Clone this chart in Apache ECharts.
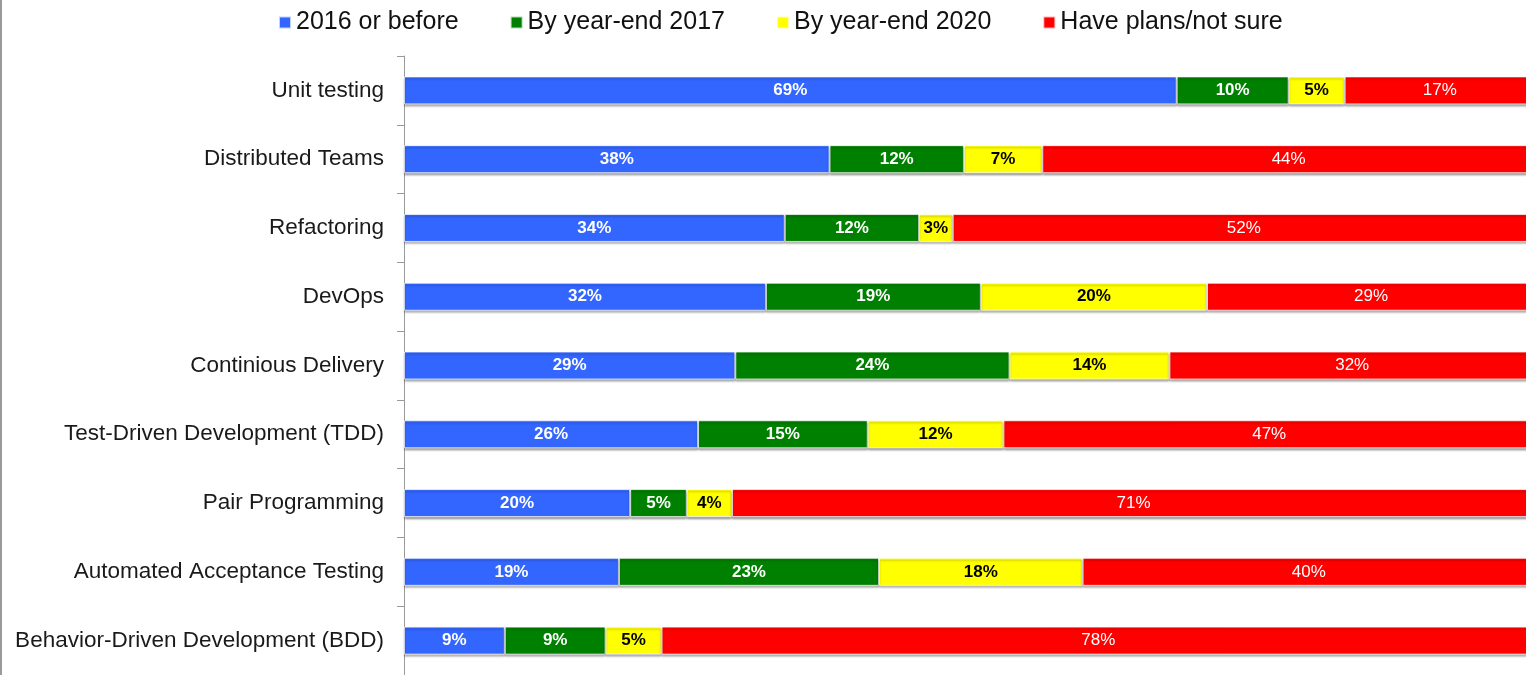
<!DOCTYPE html>
<html>
<head>
<meta charset="utf-8">
<script src="https://cdn.jsdelivr.net/npm/echarts@6/dist/echarts.min.js"></script>
<style>
html,body{margin:0;padding:0;background:#fff;overflow:hidden;}
#chart{width:1545px;height:675px;}
</style>
</head>
<body>
<div id="chart"></div>
<script>
const categories = [
  "Unit testing",
  "Distributed Teams",
  "Refactoring",
  "DevOps",
  "Continious Delivery",
  "Test-Driven Development (TDD)",
  "Pair Programming",
  "Automated Acceptance Testing",
  "Behavior-Driven Development (BDD)"
];
const seriesNames = ["2016 or before", "By year-end 2017", "By year-end 2020", "Have plans/not sure"];
const before2016 = [69, 38, 34, 32, 29, 26, 20, 19, 9];
const by2017     = [10, 12, 12, 19, 24, 15, 5, 23, 9];
const by2020     = [5, 7, 3, 20, 14, 12, 4, 18, 5];
const plansNotSure = [17, 44, 52, 29, 32, 47, 71, 40, 78];
const colors = ["#3366ff", "#008000", "#ffff00", "#ff0000"];

const allSeries = [before2016, by2017, by2020, plansNotSure];
const rowTotals = categories.map((_, i) => allSeries.reduce((s, arr) => s + arr[i], 0));

const labelStyles = [
  {color: "#fff", fontWeight: "bold"},
  {color: "#fff", fontWeight: "bold"},
  {color: "#000", fontWeight: "bold"},
  {color: "#fff", fontWeight: "normal"}
];

const series = allSeries.map((arr, k) => ({
  name: seriesNames[k],
  type: "bar",
  stack: "total",
  barWidth: 28,
  itemStyle: {
    color: colors[k],
    borderColor: "rgba(255,255,255,0.7)",
    borderWidth: 1,
    shadowColor: "rgba(0,0,0,0.35)",
    shadowOffsetY: 2,
    shadowBlur: 2
  },
  label: {
    show: true,
    position: "inside",
    fontFamily: "Liberation Sans, Arial, sans-serif",
    fontSize: 17,
    color: labelStyles[k].color,
    fontWeight: labelStyles[k].fontWeight,
    formatter: p => p.data.raw + "%"
  },
  data: arr.map((v, i) => ({value: v / rowTotals[i] * 100, raw: v}))
}));

const chart = echarts.init(document.getElementById("chart"));
chart.setOption({
  animation: false,
  color: colors,
  textStyle: {fontFamily: "Liberation Sans, Arial, sans-serif"},
  legend: {
    left: 273,
    top: 5,
    icon: "rect",
    itemWidth: 12,
    itemHeight: 12,
    itemGap: 51,
    textStyle: {fontSize: 25, color: "#111", fontFamily: "Liberation Sans, Arial, sans-serif"},
    data: seriesNames
  },
  grid: {left: 404, top: 56, right: 10, height: 621, containLabel: false},
  xAxis: {
    type: "value",
    min: 0,
    max: 100,
    show: false
  },
  yAxis: {
    type: "category",
    inverse: true,
    data: categories,
    axisLine: {show: true, lineStyle: {color: "#9a9a9a", width: 1}},
    axisTick: {show: true, length: 7, lineStyle: {color: "#9a9a9a"}},
    axisLabel: {
      margin: 20,
      fontSize: 22.5,
      color: "#1a1a1a",
      padding: [5, 0, 0, 0],
      fontFamily: "Liberation Sans, Arial, sans-serif"
    },
    splitLine: {show: false}
  },
  graphic: [{
    type: "line",
    shape: {x1: 1, y1: 0, x2: 1, y2: 675},
    style: {stroke: "#9a9a9a", lineWidth: 2}
  }],
  series: series
});
</script>
</body>
</html>
